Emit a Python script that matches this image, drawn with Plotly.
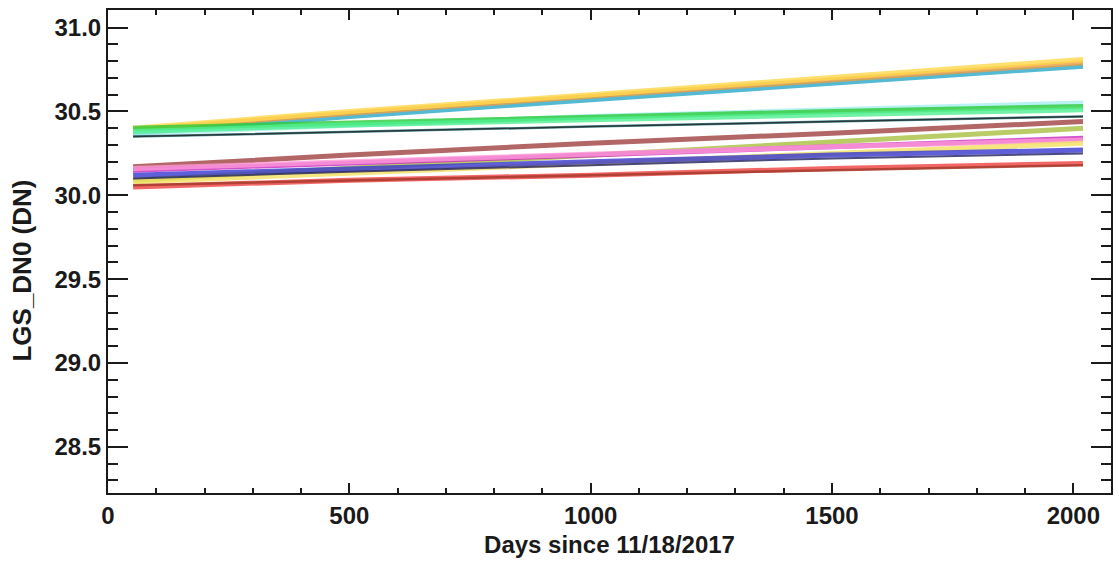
import plotly.graph_objects as go

# Sample days (since 11/18/2017) at which each detector trend is read
days = [52, 500, 1000, 1500, 2020]

# LGS_DN0 trends, one list per detector, values at the days above
series = {
    "teal":       [30.37, 30.47, 30.57, 30.67, 30.77],
    "orange":     [30.39, 30.49, 30.59, 30.69, 30.79],
    "gold":       [30.40, 30.50, 30.60, 30.70, 30.81],
    "lightcyan":  [30.37, 30.42, 30.47, 30.51, 30.55],
    "green":      [30.40, 30.43, 30.47, 30.50, 30.53],
    "springgreen":[30.38, 30.42, 30.45, 30.48, 30.51],
    "darkteal":   [30.35, 30.38, 30.41, 30.44, 30.47],
    "black":      [30.35, 30.38, 30.41, 30.44, 30.47],
    "brown":      [30.17, 30.24, 30.31, 30.37, 30.44],
    "olive":      [30.09, 30.16, 30.24, 30.32, 30.40],
    "magenta":    [30.15, 30.19, 30.24, 30.29, 30.34],
    "pink":       [30.16, 30.20, 30.25, 30.29, 30.33],
    "yellow":     [30.08, 30.13, 30.19, 30.25, 30.31],
    "blue":       [30.12, 30.16, 30.20, 30.24, 30.27],
    "navy":       [30.10, 30.14, 30.18, 30.22, 30.25],
    "red":        [30.05, 30.09, 30.12, 30.16, 30.19],
    "darkred":    [30.06, 30.09, 30.12, 30.15, 30.18],
}

colors = {
    "teal": "#2aa8c8",
    "orange": "#f0a040",
    "gold": "#ffd84a",
    "lightcyan": "#a8f0f0",
    "green": "#2ccc3a",
    "springgreen": "#50f090",
    "darkteal": "#2a7c84",
    "black": "#202020",
    "brown": "#a04040",
    "olive": "#a8c040",
    "magenta": "#c828c0",
    "pink": "#ff9ad8",
    "yellow": "#f4e060",
    "blue": "#3838d0",
    "navy": "#202060",
    "red": "#f04040",
    "darkred": "#a03828",
}

widths = {"black": 1.5, "darkteal": 2.5, "navy": 2, "darkred": 2.5}

fig = go.Figure()
for name, vals in series.items():
    fig.add_trace(go.Scatter(
        x=days, y=vals, mode="lines",
        line=dict(color=colors[name], width=widths.get(name, 5)),
        opacity=0.8, showlegend=False, hoverinfo="skip",
    ))

font = dict(family="Liberation Sans, Arial, sans-serif", size=24, color="#1a1a1a", weight="bold")
ink = "#1a1a1a"

axis_common = dict(
    showgrid=False, zeroline=False, showline=True, linecolor=ink, linewidth=2,
    mirror="ticks", ticks="inside", tickcolor=ink, tickwidth=2,
    tickfont=font,
)

fig.update_xaxes(
    range=[0, 2078], tick0=0, dtick=500, ticklen=10,
    minor=dict(dtick=100, ticks="inside", ticklen=5, tickcolor=ink, tickwidth=1.5),
    title=dict(text="Days since 11/18/2017", font=font, standoff=8),
    **axis_common,
)
fig.update_yaxes(
    range=[28.225, 31.105], tick0=28.5, dtick=0.5, tickformat=".1f", ticklen=20,
    minor=dict(dtick=0.1, ticks="inside", ticklen=10, tickcolor=ink, tickwidth=1.5),
    **axis_common,
)

# Y-axis title placed as a rotated annotation
fig.add_annotation(
    text="LGS_DN0 (DN)", textangle=-90, showarrow=False,
    xref="paper", yref="paper", x=-0.086, y=0.46,
    xanchor="center", yanchor="middle",
    font=dict(font, size=26),
)

fig.update_layout(
    width=1119, height=572,
    margin=dict(l=108, r=6, t=10, b=79),
    plot_bgcolor="white", paper_bgcolor="white",
)

fig.write_html("out.html")
